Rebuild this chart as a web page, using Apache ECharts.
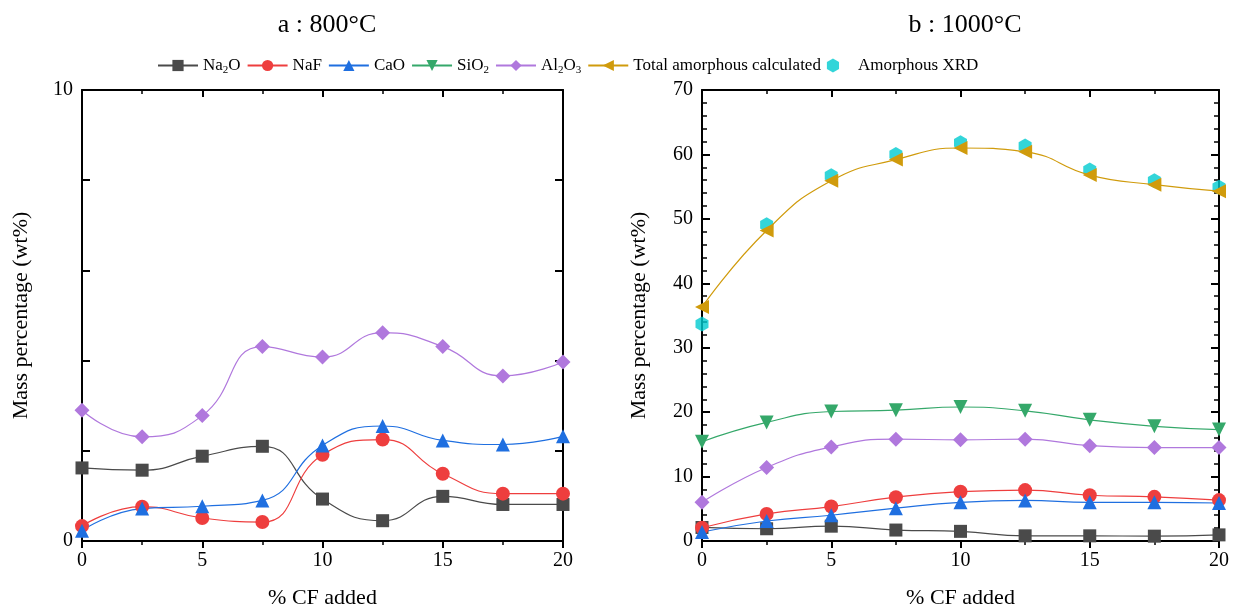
<!DOCTYPE html>
<html>
<head>
<meta charset="utf-8">
<script src="https://cdn.jsdelivr.net/npm/echarts@6/dist/echarts.min.js"></script>
<style>html,body{margin:0;padding:0;background:#fff}#c{width:1233px;height:609px}</style>
</head>
<body>
<div id="c"></div>
<script>
const cfAdded = [0, 2.5, 5, 7.5, 10, 12.5, 15, 17.5, 20];
// a : 800°C
const na2o800  = [1.62, 1.57, 1.88, 2.10, 0.93, 0.45, 0.99, 0.81, 0.81];
const naf800   = [0.33, 0.76, 0.51, 0.42, 1.91, 2.25, 1.49, 1.05, 1.05];
const cao800   = [0.23, 0.72, 0.77, 0.90, 2.12, 2.55, 2.23, 2.14, 2.32];
const al2o3800 = [2.90, 2.31, 2.78, 4.31, 4.08, 4.62, 4.31, 3.66, 3.97];
// b : 1000°C
const na2o1000  = [2.1, 1.9, 2.3, 1.7, 1.5, 0.8, 0.8, 0.75, 0.95];
const naf1000   = [2.05, 4.2, 5.35, 6.8, 7.65, 7.9, 7.1, 6.85, 6.35];
const cao1000   = [1.4, 3.1, 4.0, 5.1, 6.0, 6.3, 6.0, 6.0, 5.9];
const sio21000  = [15.4, 18.4, 20.1, 20.3, 20.8, 20.2, 18.8, 17.8, 17.3];
const al2o31000 = [6.0, 11.4, 14.6, 15.8, 15.7, 15.8, 14.8, 14.5, 14.5];
const total1000 = [36.3, 48.2, 55.9, 59.2, 61.0, 60.4, 56.8, 55.3, 54.3];
const xrd1000   = [33.7, 49.1, 56.7, 60.0, 61.8, 61.3, 57.6, 55.9, 54.9];

const titles = ['a : 800°C', 'b : 1000°C'];
const seriesNames = ['Na2O', 'NaF', 'CaO', 'SiO2', 'Al2O3', 'Total amorphous calculated', 'Amorphous XRD'];
const legendRich = {'Na2O': 'Na{s|2}O', 'SiO2': 'SiO{s|2}', 'Al2O3': 'Al{s|2}O{s|3}'};
const yName = 'Mass percentage (wt%)';
const xName = '% CF added';

const FONT = '"Liberation Serif", "Times New Roman", serif';
const colors = {
  'Na2O': '#4a4a4a', 'NaF': '#ee3e3e', 'CaO': '#1f6fe0', 'SiO2': '#35a86a',
  'Al2O3': '#b078dd', 'Total amorphous calculated': '#d09b0c', 'Amorphous XRD': '#00cbd0'
};
const symbols = {
  'Na2O': ['rect', 0, 13], 'NaF': ['circle', 0, 14], 'CaO': ['triangle', 0, 14],
  'SiO2': ['triangle', 180, 14], 'Al2O3': ['diamond', 0, 15],
  'Total amorphous calculated': ['triangle', 90, 14],
  'Amorphous XRD': ['path://M0,-1 L0.866,-0.5 L0.866,0.5 L0,1 L-0.866,0.5 L-0.866,-0.5 Z', 0, 15]
};
function pairs(arr){ return cfAdded.map((x,i)=>[x, arr[i]]); }
function lineSeries(name, arr, gi){
  const s = symbols[name];
  return {
    name, type: 'line', smooth: 0.5, data: pairs(arr),
    xAxisIndex: gi*2, yAxisIndex: gi*2,
    symbol: s[0], symbolRotate: s[1], symbolSize: s[2], symbolKeepAspect: true,
    lineStyle: {color: colors[name], width: 1.2},
    itemStyle: {color: colors[name]},
    emphasis: {disabled: true}
  };
}
const lab = {color: '#000', fontFamily: FONT, fontSize: 20};
function xAxes(gi){
  return [
    {type:'value', gridIndex: gi, min:0, max:20, interval:5, position:'bottom',
     axisLine:{show:true, onZero:false, lineStyle:{color:'#000', width:2}},
     axisTick:{show:true, inside:false, length:7, lineStyle:{color:'#000', width:2}},
     minorTick:{show:true, splitNumber:2, length:4, lineStyle:{color:'#000', width:1.5}},
     splitLine:{show:false}, axisLabel:{...lab, margin:10},
     name: xName, nameLocation:'middle', nameGap: 46,
     nameTextStyle:{color:'#000', fontFamily: FONT, fontSize: 22}},
    {type:'value', gridIndex: gi, min:0, max:20, interval:5, position:'top',
     axisLine:{show:true, onZero:false, lineStyle:{color:'#000', width:2}},
     axisTick:{show:true, inside:true, length:7, lineStyle:{color:'#000', width:2}},
     minorTick:{show:true, splitNumber:2, length:4, lineStyle:{color:'#000', width:1.5}},
     splitLine:{show:false}, axisLabel:{show:false}}
  ];
}
function yAxes(gi, max, interval, labFmt, minor){
  return [
    {type:'value', gridIndex: gi, min:0, max, interval, position:'left',
     axisLine:{show:true, onZero:false, lineStyle:{color:'#000', width:2}},
     axisTick:{show:true, inside:true, length:8, lineStyle:{color:'#000', width:2}},
     minorTick:{show:minor, splitNumber:5, length:5, lineStyle:{color:'#000', width:1.5}},
     splitLine:{show:false}, axisLabel:{...lab, margin:9, formatter: labFmt},
     name: yName, nameLocation:'middle', nameGap: gi===0 ? 50 : 52,
     nameTextStyle:{color:'#000', fontFamily: FONT, fontSize: 22}},
    {type:'value', gridIndex: gi, min:0, max, interval, position:'right',
     axisLine:{show:true, onZero:false, lineStyle:{color:'#000', width:2}},
     axisTick:{show:true, inside:true, length:8, lineStyle:{color:'#000', width:2}},
     minorTick:{show:minor, splitNumber:5, length:5, lineStyle:{color:'#000', width:1.5}},
     splitLine:{show:false}, axisLabel:{show:false}}
  ];
}

const chart = echarts.init(document.getElementById('c'), null, {renderer:'canvas'});
const xrdSym = symbols['Amorphous XRD'];
chart.setOption({
  animation: false,
  backgroundColor: '#fff',
  title: [
    {text: titles[0], left: 322, top: 7, textAlign: 'center',
     textStyle:{fontFamily: FONT, fontSize: 26, fontWeight:'normal', color:'#000'}},
    {text: titles[1], left: 960, top: 7, textAlign: 'center',
     textStyle:{fontFamily: FONT, fontSize: 26, fontWeight:'normal', color:'#000'}}
  ],
  legend: {
    data: seriesNames, left: 157, top: 57, padding: 0, itemWidth: 40, itemHeight: 14, itemGap: 6,
    formatter: n => legendRich[n] || n,
    textStyle: {fontFamily: FONT, fontSize: 17, color:'#000',
      rich: {s: {fontFamily: FONT, fontSize: 11, color:'#000', padding:[9,0,0,0]}}}
  },
  grid: [
    {left: 82, top: 90, width: 481, height: 451, outerBoundsMode: 'none', containLabel: false},
    {left: 702, top: 90, width: 517, height: 451, outerBoundsMode: 'none', containLabel: false}
  ],
  xAxis: [...xAxes(0), ...xAxes(1)],
  yAxis: [
    ...yAxes(0, 10, 2, v => (v === 0 || v === 10) ? String(v) : '', false),
    ...yAxes(1, 70, 10, v => String(v), true)
  ],
  series: [
    lineSeries('Na2O', na2o800, 0),
    lineSeries('NaF', naf800, 0),
    lineSeries('CaO', cao800, 0),
    lineSeries('Al2O3', al2o3800, 0),
    lineSeries('Na2O', na2o1000, 1),
    lineSeries('NaF', naf1000, 1),
    lineSeries('CaO', cao1000, 1),
    lineSeries('SiO2', sio21000, 1),
    lineSeries('Al2O3', al2o31000, 1),
    lineSeries('Total amorphous calculated', total1000, 1),
    {name: 'Amorphous XRD', type: 'scatter', data: pairs(xrd1000),
     xAxisIndex: 2, yAxisIndex: 2, symbol: xrdSym[0], symbolSize: xrdSym[2],
     symbolKeepAspect: true, itemStyle: {color: colors['Amorphous XRD']},
     emphasis: {disabled: true}}
  ]
});
</script>
</body>
</html>
